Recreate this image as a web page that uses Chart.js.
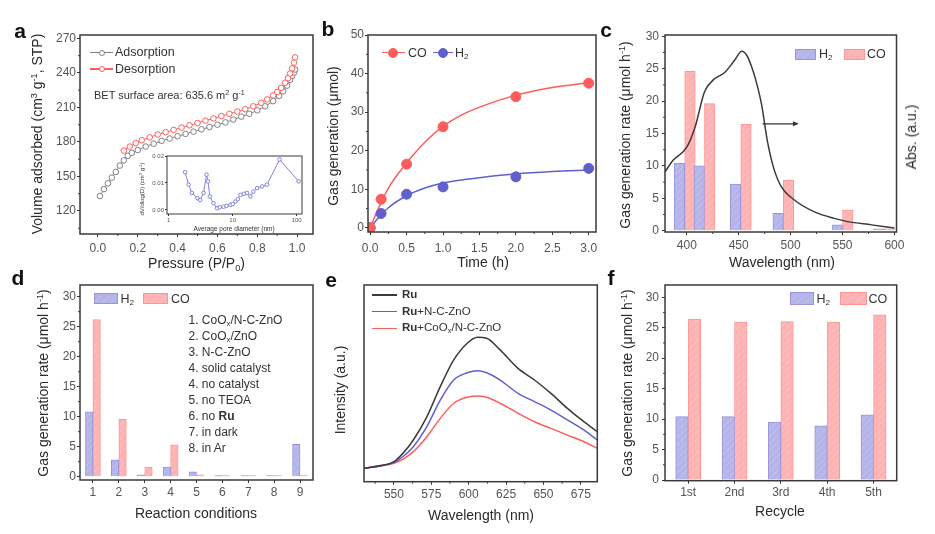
<!DOCTYPE html>
<html>
<head>
<meta charset="utf-8">
<script src="https://cdn.jsdelivr.net/npm/chart.js@4.4.1/dist/chart.umd.min.js"></script>
<style>
  body { margin: 0; background: #fff; }
  #fig { position: relative; width: 935px; height: 534px; overflow: hidden;
         font-family: "Liberation Sans", Arial, sans-serif; color: #2a2a2a; }
  #fig canvas { position: absolute; }
  .t { position: absolute; white-space: nowrap; line-height: 1; }
  .t sub { font-size: 65%; vertical-align: -0.3em; line-height: 0; }
  .t sup { font-size: 65%; vertical-align: 0.55em; line-height: 0; }
</style>
</head>
<body>
<div id="fig"></div>
<script>
/* ================= DATA ================= */
// a: N2 isotherm + pore size inset
const adsP = [0.01, 0.03, 0.05, 0.07, 0.09, 0.11, 0.13, 0.15, 0.17, 0.2, 0.24, 0.28, 0.32, 0.36, 0.4, 0.44, 0.48, 0.52, 0.56, 0.6, 0.64, 0.68, 0.72, 0.76, 0.8, 0.84, 0.88, 0.91, 0.93, 0.95, 0.965, 0.975, 0.985, 0.99];
const adsV = [133, 139, 144, 149, 154, 159.5, 164, 168, 170.5, 173, 176, 178.5, 181, 183, 185, 187, 189, 191, 193, 195, 197, 199.5, 202, 204.5, 207.5, 211, 215.5, 220, 224, 229, 234, 237.5, 240.5, 243];
const desP = [0.13, 0.16, 0.19, 0.22, 0.26, 0.3, 0.34, 0.38, 0.42, 0.46, 0.5, 0.54, 0.58, 0.62, 0.66, 0.7, 0.74, 0.78, 0.82, 0.85, 0.88, 0.9, 0.92, 0.94, 0.955, 0.965, 0.975, 0.985, 0.99];
const desV = [172.5, 176, 179, 181.5, 184, 186.5, 188.5, 190.5, 192.5, 194.5, 196.5, 198.5, 200.5, 202.5, 204.5, 206.5, 208.5, 211, 214, 217, 220.5, 223.5, 227, 231.5, 235.5, 239.5, 244, 249, 253.5];
const poreD = [1.8, 2.05, 2.3, 2.8, 3.1, 3.5, 3.9, 4.1, 4.4, 5.0, 5.7, 6.3, 7.2, 8.0, 9.2, 10, 11, 12, 13.2, 15, 16.8, 18.9, 21, 24, 28.8, 34.4, 54, 107];
const poreDV = [0.014, 0.0094, 0.0063, 0.0044, 0.0037, 0.0063, 0.0131, 0.0106, 0.005, 0.0025, 0.0006, 0.001, 0.0012, 0.0015, 0.0019, 0.0022, 0.0031, 0.004, 0.0056, 0.006, 0.0063, 0.005, 0.0068, 0.0081, 0.0087, 0.0094, 0.0187, 0.0106];

// b: gas evolution vs time
const timeH = [0, 0.15, 0.5, 1, 2, 3];
const coUmol = [0, 7.4, 16.5, 26.2, 34.0, 37.5];
const h2Umol = [0, 3.7, 8.7, 10.6, 13.2, 15.4];
const fitT = [0, 0.1, 0.25, 0.5, 0.75, 1, 1.25, 1.5, 2, 2.5, 3];
const coFit = [0, 4.5, 10.3, 16.8, 22.2, 26.3, 29.2, 31.3, 34.4, 36.4, 37.6];
const h2Fit = [0, 2.3, 5.2, 8.3, 10.3, 11.6, 12.4, 13.0, 14.0, 14.6, 15.0];

// c: wavelength dependence + absorption
const lambdas = [398, 417, 452, 493, 550, 590];
const h2RateC = [10.4, 10.0, 7.2, 2.7, 0.9, 0.3];
const coRateC = [24.6, 19.6, 16.4, 7.8, 3.2, 0.3];
const absNm = [379, 387, 400, 408, 417, 425, 437, 446, 453, 458, 462, 466, 472, 478, 484, 491, 504, 523, 542, 555, 578, 600];
const absVal = [9.1, 10.9, 12.9, 16.0, 21.4, 23.2, 24.5, 26.3, 27.7, 27.0, 25.5, 23.5, 19.5, 13.5, 9.5, 6.8, 4.7, 2.9, 1.9, 1.4, 0.9, 0.4];

// d: control experiments
const conditions = ["1", "2", "3", "4", "5", "6", "7", "8", "9"];
const h2RateD = [10.8, 2.8, 0.3, 1.6, 0.8, 0.2, 0.2, 0.2, 5.4];
const coRateD = [26.2, 9.6, 1.6, 5.3, 0.3, 0.2, 0.2, 0.2, 0.2];
const conditionNames = ["1. CoO<sub>x</sub>/N-C-ZnO", "2. CoO<sub>x</sub>/ZnO", "3. N-C-ZnO", "4. solid catalyst",
  "4. no catalyst", "5. no TEOA", "6. no <b>Ru</b>", "7. in dark", "8. in Ar"];

// e: PL spectra
const plNm = [530, 541, 550, 556, 563, 572, 581, 590, 599, 606, 612, 621, 633, 644, 655, 666, 677, 686];
const plRu = [6.8, 8.1, 10.2, 14.4, 21.2, 33.0, 48.3, 61.9, 70.4, 73.4, 72.9, 67.0, 57.6, 51.7, 44.9, 37.3, 30.5, 25.4];
const plRuNC = [6.8, 8.2, 9.7, 12.7, 17.8, 28.0, 41.5, 51.7, 55.4, 56.4, 55.4, 51.7, 44.9, 40.7, 36.4, 31.4, 26.3, 21.2];
const plRuCo = [6.8, 8.0, 9.4, 11.4, 15.3, 22.9, 32.2, 39.9, 42.9, 43.6, 42.9, 39.9, 34.8, 30.5, 27.1, 23.7, 20.3, 17.0];

// f: recycling
const cycles = ["1st", "2nd", "3rd", "4th", "5th"];
const h2RateF = [10.4, 10.4, 9.5, 8.9, 10.7];
const coRateF = [26.4, 25.9, 26.0, 25.9, 27.1];

// tick values
const ticksAx = [0, 0.2, 0.4, 0.6, 0.8, 1.0];
const ticksAy = [120, 150, 180, 210, 240, 270];
const ticksInsetX = [1, 10, 100];
const ticksInsetY = [0, 0.01, 0.02];
const ticksBx = [0, 0.5, 1, 1.5, 2, 2.5, 3];
const ticksBy = [0, 10, 20, 30, 40, 50];
const ticksCx = [400, 450, 500, 550, 600];
const ticksRate = [0, 5, 10, 15, 20, 25, 30];
const ticksEx = [550, 575, 600, 625, 650, 675];

/* ================= STYLE ================= */
const RED = "rgb(255,92,92)";
const BLUE = "rgb(96,96,205)";
const BLUE_BAR = "rgb(180,180,233)", BLUE_EDGE = "rgb(150,150,220)";
const RED_BAR = "rgb(255,178,178)", RED_EDGE = "rgb(255,150,150)";

Chart.defaults.font.family = '"Liberation Sans", Arial, sans-serif';
Chart.defaults.font.size = 12;
Chart.defaults.color = "#555";
Chart.defaults.animation = false;
Chart.defaults.responsive = false;
Chart.defaults.plugins.legend.display = false;
Chart.defaults.plugins.tooltip.enabled = false;

const fig = document.getElementById("fig");

function hatch(fill) {
    const c = document.createElement("canvas");
    c.width = 7; c.height = 7;
    const g = c.getContext("2d");
    g.fillStyle = fill; g.fillRect(0, 0, 7, 7);
    g.strokeStyle = "rgba(255,255,255,0.22)"; g.lineWidth = 1;
    g.beginPath();
    g.moveTo(0, 7); g.lineTo(7, 0);
    g.moveTo(-1, 1); g.lineTo(1, -1);
    g.moveTo(6, 8); g.lineTo(8, 6);
    g.stroke();
    return g.createPattern(c, "repeat");
}

/* frame box, minor ticks and the arrow of panel c */
const framePlugin = {
    id: "frame",
    afterDatasetsDraw(chart, args, o) {
        const { ctx, chartArea: a } = chart;
        ctx.save();
        ctx.strokeStyle = "#3a3a3a";
        ctx.lineWidth = o.lw || 1.5;
        ctx.strokeRect(a.left, a.top, a.right - a.left, a.bottom - a.top);
        ctx.lineWidth = 1;
        const minor = (sc, horiz) => {
            const px = sc.ticks.map(t => sc.getPixelForValue(t.value));
            if (px.length < 2) return;
            const step = px[1] - px[0];
            ctx.beginPath();
            for (let i = -1; i < px.length; i++) {
                const m = px[0] + step * (i + 0.5);
                if (horiz ? (m < a.left || m > a.right) : (m > a.bottom || m < a.top)) continue;
                if (horiz) { ctx.moveTo(m, a.bottom); ctx.lineTo(m, a.bottom + 2); }
                else { ctx.moveTo(a.left, m); ctx.lineTo(a.left - 2, m); }
            }
            ctx.stroke();
        };
        if (o.x) minor(chart.scales.x, true);
        if (o.y) minor(chart.scales.y, false);
        if (o.arrow) {
            const sx = chart.scales.x, sy = chart.scales.y;
            const x1 = sx.getPixelForValue(o.arrow[0]), x2 = sx.getPixelForValue(o.arrow[1]);
            const y = sy.getPixelForValue(o.arrow[2]);
            ctx.strokeStyle = "#333"; ctx.fillStyle = "#333"; ctx.lineWidth = 1.2;
            ctx.beginPath(); ctx.moveTo(x1, y); ctx.lineTo(x2 - 4, y); ctx.stroke();
            ctx.beginPath(); ctx.moveTo(x2, y); ctx.lineTo(x2 - 6, y - 2.5); ctx.lineTo(x2 - 6, y + 2.5); ctx.closePath(); ctx.fill();
        }
        ctx.restore();
    }
};
Chart.register(framePlugin);

function axis(min, max, ticks, fmt, pad, extra) {
    return Object.assign({
        type: "linear", min: min, max: max, offset: false,
        afterBuildTicks: sc => { sc.ticks = ticks.map(v => ({ value: v })); },
        ticks: { callback: fmt, padding: pad, autoSkip: false, maxRotation: 0, color: "#555" },
        grid: { drawOnChartArea: false, offset: false, tickLength: 3, tickColor: "#333", color: "#333" },
        border: { display: false }
    }, extra || {});
}

function catAxis(pad) {
    return {
        type: "category", offset: true,
        ticks: { padding: pad, color: "#555", autoSkip: false, maxRotation: 0 },
        grid: { drawOnChartArea: false, offset: false, tickLength: 3, tickColor: "#333", color: "#333" },
        border: { display: false }
    };
}

/* cv = canvas [x, y, w, h], plot = plot area [left, top, right, bottom], page pixels */
function makeChart(cv, plot, config) {
    const c = document.createElement("canvas");
    c.width = cv[2]; c.height = cv[3];
    c.style.left = cv[0] + "px"; c.style.top = cv[1] + "px";
    fig.appendChild(c);
    const yw = plot[0] - cv[0], xh = cv[1] + cv[3] - plot[3];
    config.options.layout = { padding: { top: plot[1] - cv[1], right: cv[0] + cv[2] - plot[2], left: 0, bottom: 0 } };
    Object.values(config.options.scales).forEach(s => {
        if (s.display === false) return;
        s.afterFit = sc => {
            if (sc.isHorizontal()) sc.height = xh; else sc.width = yw;
            sc.paddingLeft = sc.paddingRight = sc.paddingTop = sc.paddingBottom = 0;
        };
    });
    return new Chart(c, config);
}

function xy(xs, ys) { return xs.map((x, i) => ({ x: x, y: ys[i] })); }

/* ================= TEXT HELPERS ================= */
function txt(x, y, html, o) {
    o = o || {};
    const d = document.createElement("div");
    d.className = "t";
    d.innerHTML = html;
    d.style.left = x + "px"; d.style.top = y + "px";
    d.style.fontSize = (o.size || 14) + "px";
    if (o.bold) d.style.fontWeight = "bold";
    if (o.color) d.style.color = o.color;
    let tr = o.left ? "translate(0,-50%)" : "translate(-50%,-50%)";
    if (o.rot) tr += " rotate(-90deg)";
    d.style.transform = tr;
    fig.appendChild(d);
}

function swatchBox(x1, y1, x2, y2, fill, edge) {
    const d = document.createElement("div");
    Object.assign(d.style, {
        position: "absolute", left: x1 + "px", top: y1 + "px", width: (x2 - x1) + "px", height: (y2 - y1) + "px",
        boxSizing: "border-box", border: "1px solid " + edge,
        background: "repeating-linear-gradient(135deg," + fill + " 0 5px, rgba(255,255,255,0.2) 5px 6px), " + fill
    });
    fig.appendChild(d);
}

function swatchLine(x1, x2, y, color, dot) {
    const l = document.createElement("div");
    Object.assign(l.style, { position: "absolute", left: x1 + "px", top: (y - 0.75) + "px", width: (x2 - x1) + "px", height: "1.5px", background: color });
    fig.appendChild(l);
    if (!dot) return;
    const r = dot.r, c = document.createElement("div");
    Object.assign(c.style, {
        position: "absolute", left: ((x1 + x2) / 2 - r) + "px", top: (y - r) + "px", width: 2 * r + "px", height: 2 * r + "px",
        borderRadius: "50%", boxSizing: "border-box", border: "1px solid " + color, background: dot.fill
    });
    fig.appendChild(c);
}

/* ================= PANEL a ================= */
makeChart([0, 0, 318, 272], [80, 35, 313, 234], {
    type: "line",
    data: { datasets: [
        { data: xy(desP, desV), borderColor: RED, borderWidth: 1, pointRadius: 2.8, pointBackgroundColor: "#fff",
          pointBorderColor: RED, pointBorderWidth: 1, order: 0 },
        { data: xy(adsP, adsV), borderColor: "#808080", borderWidth: 1, pointRadius: 2.8, pointBackgroundColor: "#fff",
          pointBorderColor: "#808080", pointBorderWidth: 1, order: 1 }
    ] },
    options: {
        scales: {
            x: axis(-0.09, 1.08, ticksAx, v => v.toFixed(1), 4),
            y: axis(100, 273, ticksAy, v => v, 1)
        },
        plugins: { frame: { x: true, y: true } }
    }
});

// inset: pore size distribution
const insetTicks = (fmt) => ({ callback: fmt, padding: 1, autoSkip: false, maxRotation: 0, color: "#555", font: { size: 6 } });
const insetX = axis(0.94, 121, ticksInsetX, v => String(v), 0);
insetX.type = "logarithmic";
insetX.ticks = insetTicks(v => String(v));
insetX.grid.tickLength = 2;
const insetY = axis(-0.0015, 0.02, ticksInsetY, v => v.toFixed(2), 1);
insetY.ticks = insetTicks(v => v.toFixed(2));
insetY.grid.tickLength = 2;
makeChart([135, 150, 175, 84], [167, 156, 302, 214], {
    type: "line",
    data: { datasets: [
        { data: xy(poreD, poreDV), borderColor: "rgb(130,130,222)", borderWidth: 1, pointRadius: 1.8,
          pointBackgroundColor: "#fff", pointBorderColor: "rgb(130,130,222)", pointBorderWidth: 1 }
    ] },
    options: {
        scales: { x: insetX, y: insetY },
        plugins: { frame: { lw: 1 } }
    }
});

/* ================= PANEL b ================= */
makeChart([322, 0, 280, 272], [368, 35, 597, 232], {
    type: "line",
    data: { datasets: [
        { data: xy(timeH, coUmol), showLine: false, pointRadius: 5, pointBackgroundColor: RED, pointBorderColor: RED, order: 0 },
        { data: xy(timeH, h2Umol), showLine: false, pointRadius: 5, pointBackgroundColor: BLUE, pointBorderColor: BLUE, order: 0 },
        { data: xy(fitT, coFit), borderColor: RED, borderWidth: 1.5, pointRadius: 0, cubicInterpolationMode: "monotone", order: 1 },
        { data: xy(fitT, h2Fit), borderColor: BLUE, borderWidth: 1.5, pointRadius: 0, cubicInterpolationMode: "monotone", order: 1 }
    ] },
    options: {
        scales: {
            x: axis(-0.03, 3.1, ticksBx, v => v.toFixed(1), 6),
            y: axis(-1.1, 50, ticksBy, v => v, 1)
        },
        plugins: { frame: { x: true, y: true } }
    }
});

/* ================= PANEL c ================= */
makeChart([612, 0, 323, 272], [665, 35, 896.5, 232], {
    type: "bar",
    data: { datasets: [
        { type: "line", data: xy(absNm, absVal), yAxisID: "y2", borderColor: "#3a3a3a", borderWidth: 1.5,
          pointRadius: 0, cubicInterpolationMode: "monotone", order: 0 },
        { data: xy(lambdas, h2RateC), backgroundColor: hatch(BLUE_BAR), borderColor: BLUE_EDGE, borderWidth: 1, barThickness: 10.5, order: 1 },
        { data: xy(lambdas, coRateC), backgroundColor: hatch(RED_BAR), borderColor: RED_EDGE, borderWidth: 1, barThickness: 10.5, order: 1 }
    ] },
    options: {
        scales: {
            x: axis(379, 602, ticksCx, v => v, 3),
            y: axis(-0.2, 30.2, ticksRate, v => v, 3),
            y2: { type: "linear", display: false, min: -0.2, max: 30.2 }
        },
        plugins: { frame: { x: true, y: true, arrow: [473, 508, 16.5] } }
    }
});

/* ================= PANEL d ================= */
makeChart([0, 272, 318, 262], [80, 285, 313, 480], {
    type: "bar",
    data: { labels: conditions, datasets: [
        { data: h2RateD, backgroundColor: hatch(BLUE_BAR), borderColor: BLUE_EDGE, borderWidth: 1, barThickness: 7.5 },
        { data: coRateD, backgroundColor: hatch(RED_BAR), borderColor: RED_EDGE, borderWidth: 1, barThickness: 7.5 }
    ] },
    options: {
        scales: {
            x: catAxis(2),
            y: axis(-0.55, 31.95, ticksRate, v => v, 1)
        },
        plugins: { frame: { y: true } }
    }
});

/* ================= PANEL e ================= */
makeChart([322, 272, 280, 262], [364, 285, 597.3, 481.7], {
    type: "line",
    data: { datasets: [
        { data: xy(plNm, plRu), borderColor: "#3a3a3a", borderWidth: 1.5, pointRadius: 0, cubicInterpolationMode: "monotone" },
        { data: xy(plNm, plRuNC), borderColor: BLUE, borderWidth: 1.5, pointRadius: 0, cubicInterpolationMode: "monotone" },
        { data: xy(plNm, plRuCo), borderColor: RED, borderWidth: 1.5, pointRadius: 0, cubicInterpolationMode: "monotone" }
    ] },
    options: {
        scales: {
            x: axis(530, 686, ticksEx, v => v, 3),
            y: { type: "linear", min: 0, max: 100, ticks: { display: false }, grid: { display: false }, border: { display: false } }
        },
        plugins: { frame: { x: true } }
    }
});

/* ================= PANEL f ================= */
makeChart([612, 272, 323, 262], [665, 285, 896.7, 480.7], {
    type: "bar",
    data: { labels: cycles, datasets: [
        { data: h2RateF, backgroundColor: hatch(BLUE_BAR), borderColor: BLUE_EDGE, borderWidth: 1, barThickness: 12.5 },
        { data: coRateF, backgroundColor: hatch(RED_BAR), borderColor: RED_EDGE, borderWidth: 1, barThickness: 12.5 }
    ] },
    options: {
        scales: {
            x: catAxis(1.5),
            y: axis(-0.11, 32, ticksRate, v => v, 3)
        },
        plugins: { frame: { y: true } }
    }
});

/* ================= LABELS ================= */
// panel letters
[["a", 20, 30], ["b", 328, 28], ["c", 606, 29], ["d", 18, 277], ["e", 331, 279], ["f", 611, 277]]
    .forEach(p => txt(p[1], p[2], p[0], { size: 21, bold: true, color: "#111" }));

const RATE = "Gas generation rate (&mu;mol h<sup>-1</sup>)";

// a
txt(37, 134, "Volume adsorbed (cm<sup>3</sup> g<sup>-1</sup>, STP)", { rot: true });
txt(196.5, 263, "Pressure (P/P<sub>0</sub>)");
swatchLine(90, 113, 52.5, "#808080", { r: 3, fill: "#fff" });
txt(115, 52, "Adsorption", { size: 12.5, left: true, color: "#333" });
swatchLine(90, 113, 69, RED, { r: 3, fill: "#fff" });
txt(115, 69, "Desorption", { size: 12.5, left: true, color: "#333" });
txt(94, 95, "BET surface area: 635.6 m<sup>2</sup> g<sup>-1</sup>", { size: 11, left: true, color: "#333" });
txt(142, 189, "dV/dlog(D) (cm<sup>3</sup> g<sup>-1</sup>)", { size: 6, rot: true, color: "#333" });
txt(234, 229, "Average pore diameter (nm)", { size: 6.5, color: "#333" });

// b
txt(333, 136, "Gas generation (&mu;mol)", { rot: true });
txt(483, 262, "Time (h)");
swatchLine(381.5, 405, 52.7, RED, { r: 5, fill: RED });
txt(408, 53, "CO", { size: 12.5, left: true, color: "#333" });
swatchLine(433, 453, 52.7, BLUE, { r: 5, fill: BLUE });
txt(455, 53, "H<sub>2</sub>", { size: 12.5, left: true, color: "#333" });

// c
txt(625, 135, RATE, { rot: true });
txt(911, 137, "Abs. (a.u.)", { rot: true });
txt(782, 262, "Wavelength (nm)");
swatchBox(795, 48.5, 816, 59.5, BLUE_BAR, BLUE_EDGE);
txt(819, 54, "H<sub>2</sub>", { size: 12.5, left: true, color: "#333" });
swatchBox(844, 48.5, 865, 59.5, RED_BAR, RED_EDGE);
txt(867, 54, "CO", { size: 12.5, left: true, color: "#333" });

// d
txt(43, 383, RATE, { rot: true });
txt(196, 513, "Reaction conditions");
swatchBox(94, 293, 118, 303.5, BLUE_BAR, BLUE_EDGE);
txt(120.5, 298.5, "H<sub>2</sub>", { size: 12.5, left: true, color: "#333" });
swatchBox(143, 293, 168, 303.5, RED_BAR, RED_EDGE);
txt(171, 298.5, "CO", { size: 12.5, left: true, color: "#333" });
conditionNames.forEach((n, i) => txt(188.5, 319.5 + i * 16.1, n, { size: 12, left: true, color: "#333" }));

// e
txt(340, 390, "Intensity (a.u.)", { rot: true });
txt(481, 515, "Wavelength (nm)");
swatchLine(371.5, 396.5, 295, "#3a3a3a");
txt(402, 295, "<b>Ru</b>", { size: 11.5, left: true, color: "#333" });
swatchLine(371.5, 396.5, 311.7, BLUE);
txt(402, 311.7, "<b>Ru</b>+N-C-ZnO", { size: 11.5, left: true, color: "#333" });
swatchLine(371.5, 396.5, 328.3, RED);
txt(402, 328.3, "<b>Ru</b>+CoO<sub>x</sub>/N-C-ZnO", { size: 11.5, left: true, color: "#333" });

// f
txt(627, 383, RATE, { rot: true });
txt(780, 511, "Recycle");
swatchBox(790, 292, 813.5, 305, BLUE_BAR, BLUE_EDGE);
txt(816.5, 298.5, "H<sub>2</sub>", { size: 12.5, left: true, color: "#333" });
swatchBox(840, 292, 866.5, 305, RED_BAR, RED_EDGE);
txt(868.5, 298.5, "CO", { size: 12.5, left: true, color: "#333" });
</script>
</body>
</html>
